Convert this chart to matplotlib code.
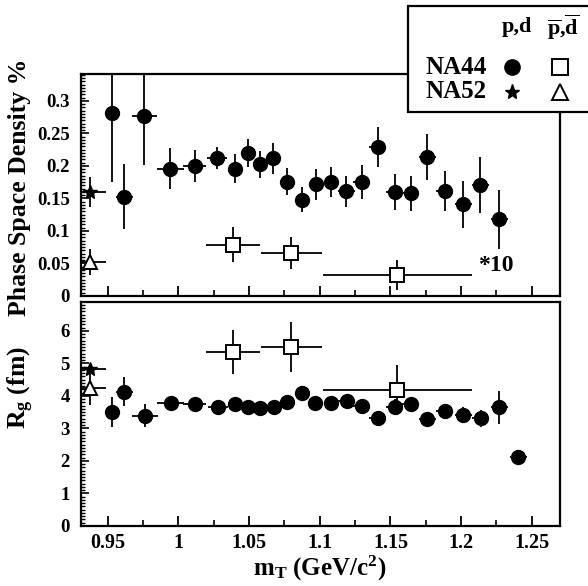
import matplotlib
matplotlib.use("Agg")
import matplotlib.pyplot as plt
from matplotlib.patches import Rectangle
from matplotlib.ticker import MultipleLocator, FixedLocator

plt.rcParams['font.family'] = ['Liberation Serif', 'DejaVu Serif']
plt.rcParams['font.weight'] = 'bold'
plt.rcParams['mathtext.fontset'] = 'custom'
plt.rcParams['mathtext.rm'] = 'Liberation Serif:bold'
plt.rcParams['mathtext.bf'] = 'Liberation Serif:bold'
plt.rcParams['mathtext.it'] = 'Liberation Serif:bold'

# ---- NA44 p,d : phase space density (top) ----
mt_top = [0.9526, 0.9616, 0.9758, 0.9941, 1.0114, 1.0273, 1.0398, 1.0489, 1.0578, 1.0671,
          1.0770, 1.0873, 1.0972, 1.1079, 1.1186, 1.1297, 1.1410, 1.1529, 1.1643, 1.1759,
          1.1885, 1.2015, 1.2134, 1.2269]
mt_top_err = [0.0, 0.006, 0.009, 0.0095, 0.008, 0.007, 0.005, 0.005, 0.005, 0.005,
              0.005, 0.005, 0.005, 0.005, 0.006, 0.006, 0.006, 0.006, 0.006, 0.006,
              0.006, 0.006, 0.006, 0.006]
psd_pd = [0.281, 0.153, 0.277, 0.196, 0.200, 0.212, 0.196, 0.220, 0.2026, 0.212,
          0.176, 0.148, 0.172, 0.175, 0.161, 0.175, 0.229, 0.160, 0.158, 0.2136,
          0.162, 0.141, 0.171, 0.118]
psd_pd_err = [0.105, 0.050, 0.075, 0.031, 0.024, 0.017, 0.022, 0.022, 0.021, 0.024,
              0.021, 0.019, 0.024, 0.023, 0.024, 0.026, 0.031, 0.027, 0.027, 0.035,
              0.031, 0.036, 0.043, 0.045]

# ---- NA44 p,d : Rg (bottom) ----
mt_bot = [0.9526, 0.9616, 0.9763, 0.9945, 1.0114, 1.0280, 1.0398, 1.0489, 1.0578, 1.0676,
          1.0770, 1.0873, 1.0967, 1.1079, 1.1190, 1.1297, 1.1410, 1.1529, 1.1643, 1.1759,
          1.1885, 1.2015, 1.2138, 1.2269, 1.2406]
mt_bot_err = [0.0, 0.006, 0.009, 0.0095, 0.008, 0.007, 0.005, 0.005, 0.005, 0.005,
              0.005, 0.005, 0.005, 0.005, 0.006, 0.006, 0.006, 0.006, 0.006, 0.006,
              0.006, 0.006, 0.006, 0.006, 0.006]
rg_pd = [3.52, 4.13, 3.39, 3.78, 3.75, 3.67, 3.75, 3.65, 3.64, 3.67,
         3.80, 4.10, 3.78, 3.78, 3.86, 3.69, 3.31, 3.65, 3.75, 3.29,
         3.55, 3.42, 3.31, 3.65, 2.11]
rg_pd_err = [0.46, 0.45, 0.35, 0.12, 0.08, 0.08, 0.08, 0.08, 0.08, 0.08,
             0.08, 0.08, 0.08, 0.08, 0.08, 0.08, 0.10, 0.25, 0.15, 0.12,
             0.18, 0.25, 0.25, 0.50, 0.20]

# ---- NA44 pbar,dbar (open squares) ----
mt_bar = [1.0384, 1.0799, 1.1548]
mt_bar_lo = [1.0194, 1.0581, 1.1020]
mt_bar_hi = [1.0576, 1.1019, 1.2075]
psd_bar = [0.0788, 0.066, 0.0323]       # plotted *10
psd_bar_err = [0.027, 0.025, 0.023]
rg_bar = [5.36, 5.50, 4.18]
rg_bar_err = [0.68, 0.77, 0.77]

# ---- NA52 ----
mt_na52 = [0.9372]
mt_na52_err = [0.0115]
psd_na52_p = [0.1596]
psd_na52_p_err = [0.023]
psd_na52_pbar = [0.052]
psd_na52_pbar_err = [0.020]
rg_na52_p = [4.83]
rg_na52_p_err = [0.10]
rg_na52_pbar = [4.26]
rg_na52_pbar_err = [0.55]

W, H = 588, 586
fig = plt.figure(figsize=(W / 100, H / 100), dpi=100)
ax1 = fig.add_axes([81 / W, 1 - 296 / H, (560 - 81) / W, (296 - 74) / H])
ax2 = fig.add_axes([81 / W, 1 - 526 / H, (560 - 81) / W, (526 - 302) / H])

ekw = dict(ecolor='black', elinewidth=1.3, capsize=0, linestyle='none')


def xe(lo, hi, c):
    return [[ci - l for ci, l in zip(c, lo)], [h - ci for ci, h in zip(c, hi)]]


# top panel
ax1.errorbar(mt_top, psd_pd, yerr=psd_pd_err, xerr=mt_top_err, fmt='o', ms=10,
             mfc='black', mec='black', **ekw)
ax1.errorbar(mt_bar, psd_bar, yerr=psd_bar_err, xerr=xe(mt_bar_lo, mt_bar_hi, mt_bar),
             fmt='s', ms=10, mfc='white', mec='black', mew=1.4, **ekw)
ax1.errorbar(mt_na52, psd_na52_p, yerr=psd_na52_p_err, xerr=mt_na52_err, fmt='*', ms=10,
             mfc='black', mec='black', **ekw)
ax1.errorbar(mt_na52, psd_na52_pbar, yerr=psd_na52_pbar_err, xerr=mt_na52_err, fmt='^', ms=10,
             mfc='white', mec='black', mew=1.4, **ekw)
ax1.text(1.2245, 0.047, '*10', fontsize=17, fontweight='bold', ha='center', va='center')

# bottom panel
ax2.errorbar(mt_bot, rg_pd, yerr=rg_pd_err, xerr=mt_bot_err, fmt='o', ms=10,
             mfc='black', mec='black', **ekw)
ax2.errorbar(mt_bar, rg_bar, yerr=rg_bar_err, xerr=xe(mt_bar_lo, mt_bar_hi, mt_bar),
             fmt='s', ms=10, mfc='white', mec='black', mew=1.4, **ekw)
ax2.errorbar(mt_na52, rg_na52_p, yerr=rg_na52_p_err, xerr=mt_na52_err, fmt='*', ms=10,
             mfc='black', mec='black', **ekw)
ax2.errorbar(mt_na52, rg_na52_pbar, yerr=rg_na52_pbar_err, xerr=mt_na52_err, fmt='^', ms=10,
             mfc='white', mec='black', mew=1.4, **ekw)

for ax in (ax1, ax2):
    ax.set_xlim(0.931, 1.270)
    for s in ax.spines.values():
        s.set_linewidth(1.6)
    ax.xaxis.set_major_locator(MultipleLocator(0.05))
    ax.xaxis.set_minor_locator(MultipleLocator(0.025))
    ax.tick_params(axis='both', which='both', direction='in', top=False, right=False)
    ax.tick_params(axis='x', which='major', length=7, width=1.3, pad=5, labelsize=14.5)
    ax.tick_params(axis='x', which='minor', length=4, width=1.2)
    ax.tick_params(axis='y', which='major', length=6, width=1.2, pad=8, labelsize=13.5)
    ax.tick_params(axis='y', which='minor', length=3, width=1.0)

ax1.set_ylim(0, 0.3415)
ax1.yaxis.set_major_locator(FixedLocator([0, 0.05, 0.1, 0.15, 0.2, 0.25, 0.3]))
ax1.yaxis.set_minor_locator(MultipleLocator(0.005))
ax1.set_yticklabels(['0', '0.05', '0.1', '0.15', '0.2', '0.25', '0.3'])
ax1.tick_params(axis='x', labelbottom=False)

ax2.set_ylim(0, 6.89)
ax2.yaxis.set_major_locator(MultipleLocator(1))
ax2.yaxis.set_minor_locator(MultipleLocator(0.1))
ax2.set_xticks([0.95, 1.0, 1.05, 1.1, 1.15, 1.2, 1.25])
ax2.set_xticklabels(['0.95', '1', '1.05', '1.1', '1.15', '1.2', '1.25'])

fig.text(20 / W, 1 - 187 / H, 'Phase Space Density %', rotation=90, fontsize=18.5,
         fontweight='bold', ha='center', va='center')
fig.text(21 / W, 1 - 388 / H, r'R$_\mathrm{g}$ (fm)', rotation=90, fontsize=18.5,
         fontweight='bold', ha='center', va='center')
fig.text(320 / W, 1 - 576 / H, r'm$_\mathrm{T}$ (GeV/c$^\mathrm{2}$)', fontsize=18,
         fontweight='bold', ha='center', va='baseline')

# legend box
rect = Rectangle((408 / W, 1 - 112 / H), 200 / W, 106 / H, transform=fig.transFigure,
                 facecolor='white', edgecolor='black', linewidth=1.6, zorder=10,
                 clip_on=False)
fig.add_artist(rect)
fig.text(517 / W, 1 - 27 / H, 'p,d', fontsize=16, fontweight='bold', ha='center',
         va='center', zorder=11)
fig.text(563 / W, 1 - 27 / H, r'$\overline{\mathrm{p}}$,$\overline{\mathrm{d}}$', fontsize=16,
         ha='center', va='center', zorder=11)
fig.text(456 / W, 1 - 67 / H, 'NA44', fontsize=18, fontweight='bold', ha='center',
         va='center', zorder=11)
fig.text(456 / W, 1 - 92 / H, 'NA52', fontsize=18, fontweight='bold', ha='center',
         va='center', zorder=11)
lax = fig.add_axes([0, 0, 1, 1], facecolor='none', zorder=12)
lax.set_xlim(0, W)
lax.set_ylim(H, 0)
lax.axis('off')
lax.plot([512], [67], 'o', ms=11, mfc='black', mec='black')
lax.plot([560], [67], 's', ms=11, mfc='white', mec='black', mew=1.4)
lax.plot([512], [92], '*', ms=11, mfc='black', mec='black')
lax.plot([560], [92], '^', ms=12, mfc='white', mec='black', mew=1.4)

fig.savefig('out.png', dpi=100)
